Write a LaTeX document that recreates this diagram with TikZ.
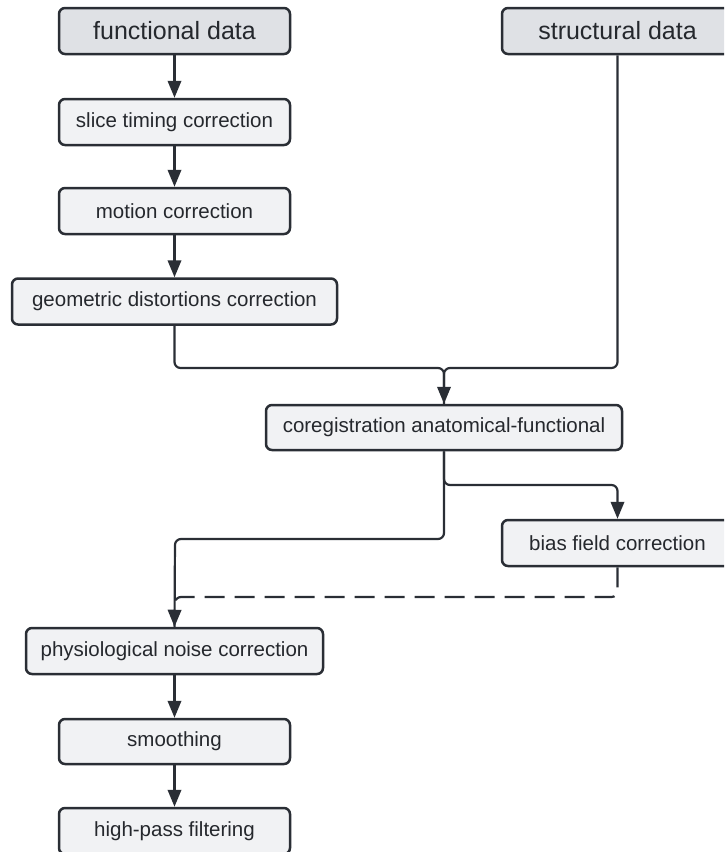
\documentclass[tikz,border=0pt]{standalone}
\usepackage{fontspec}
\setmainfont{Liberation Sans}
\usetikzlibrary{arrows.meta}
\definecolor{edgec}{HTML}{2A2E35}
\definecolor{filllight}{HTML}{F1F2F4}
\definecolor{filldark}{HTML}{DFE1E5}
\definecolor{txtc}{HTML}{25282D}
\begin{document}
\begin{tikzpicture}[x=1pt,y=-1pt,
  stepbox/.style={draw=edgec, line width=2.5pt, rounded corners=6pt, fill=filllight,
    minimum height=46pt, inner sep=0pt, text=txtc, font=\fontsize{20.5}{24}\selectfont},
  databox/.style={stepbox, fill=filldark, font=\fontsize{25}{30}\selectfont},
  conn/.style={draw=edgec, line width=2.2pt, rounded corners=6pt},
  arr/.style={conn, -{Triangle[length=17pt,width=13.5pt]}},
  dashc/.style={conn, dash pattern=on 20pt off 10pt}]
\useasboundingbox (0,0) rectangle (724,852);
\begin{scope}
\clip (0,0) rectangle (724,852);
\node[databox, minimum width=231pt] (fd) at (174.5,31) {functional data};
\node[databox, minimum width=231pt] (sd) at (617.5,31) {structural data};
\node[stepbox, minimum width=231pt] (st) at (174.5,122) {slice timing correction};
\node[stepbox, minimum width=231pt] (mc) at (174.5,211) {motion correction};
\node[stepbox, minimum width=325pt] (gd) at (174.5,301.5) {geometric distortions correction};
\node[stepbox, minimum width=356pt, minimum height=45pt] (co) at (444,427.5) {coregistration anatomical-functional};
\node[stepbox, minimum width=231pt] (bf) at (617.5,543) {bias field correction};
\node[stepbox, minimum width=297pt] (pn) at (174.5,651) {physiological noise correction};
\node[stepbox, minimum width=231pt, minimum height=45pt] (sm) at (174.5,741.5) {smoothing};
\node[stepbox, minimum width=231pt] (hp) at (174.5,831) {high-pass filtering};

\coordinate (j1) at (444,368);
\coordinate (b1) at (444,485);
\coordinate (b2) at (175,539);
\coordinate (d1) at (617.5,597);
\coordinate (d2) at (175,597);

\draw[arr] (fd) -- (st);
\draw[arr] (st) -- (mc);
\draw[arr] (mc) -- (gd);
\draw[conn] (sd.south) |- (j1) -- (co.north);
\draw[arr] (gd.south) |- (j1) -- (co.north);
\draw[arr] (co.south) -- (b1) -| (bf.north);
\draw[arr] (co.south) |- (b2) -- (pn.north);
\draw[dashc] (bf.south) -- (d1) -- (d2) -- (pn.north);
\draw[arr] (pn) -- (sm);
\draw[arr] (sm) -- (hp);
\end{scope}
\end{tikzpicture}
\end{document}
